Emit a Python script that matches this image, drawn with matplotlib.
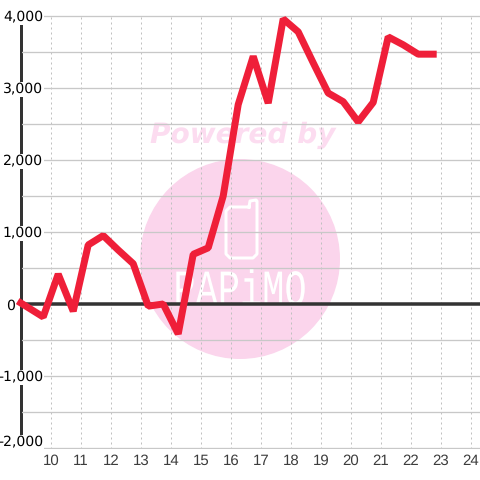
import matplotlib
matplotlib.use("Agg")
import matplotlib.pyplot as plt
from matplotlib.lines import Line2D
from matplotlib.patches import Circle
from matplotlib.patheffects import AbstractPathEffect
from matplotlib.transforms import Affine2D

hours = [9.0, 9.75, 10.25, 10.75, 11.25, 11.75, 12.25, 12.75, 13.25, 13.75, 14.25, 14.75,
         15.25, 15.75, 16.25, 16.75, 17.25, 17.75, 18.25, 18.75, 19.25, 19.75, 20.25,
         20.75, 21.25, 21.75, 22.25, 22.75]
values = [15, -180, 415, -100, 820, 950, 750, 560, -30, 0, -415, 690,
          780, 1500, 2770, 3440, 2790, 3960, 3780, 3350, 2930, 2810, 2530,
          2800, 3710, 3600, 3470, 3470]
x_ticks = list(range(10, 25))
y_major = [-2000, -1000, 0, 1000, 2000, 3000, 4000]
y_minor = [-1500, -500, 500, 1500, 2500, 3500]
y_labels = ["-2,000", "-1,000", "0", "1,000", "2,000", "3,000", "4,000"]

FONT = "Liberation Sans"
TEXT = "#3c3c3c"
GRID = "#c8c8c8"
DARK = "#333333"
RED = "#ef1f39"
px = 72 / 100

plt.rcParams["text.hinting"] = "no_hinting"
plt.rcParams["text.hinting_factor"] = 1


class StretchY(AbstractPathEffect):
    def __init__(self, factor):
        super().__init__()
        self.factor = factor

    def draw_path(self, renderer, gc, tpath, affine, rgbFace=None):
        renderer.draw_path(gc, tpath, Affine2D().scale(1, self.factor) + affine, rgbFace)


fig = plt.figure(figsize=(4.8, 4.8), dpi=100, facecolor="white")

# watermark layer in pixel coordinates
bg = fig.add_axes([0, 0, 1, 1], zorder=0)
bg.set_xlim(0, 480)
bg.set_ylim(480, 0)
bg.axis("off")
bg.add_patch(Circle((240, 259), 100, fc="#fbd5ec", ec="none"))
bg.text(242.5, 135.5, "Powered by", family="DejaVu Sans", weight="bold", style="oblique",
        fontsize=20.4, color="#fcdcf0", ha="center", va="center")
bg.add_line(Line2D([249, 250, 256, 257, 257, 253, 230, 226, 226, 230, 249],
                   [207, 201, 200, 201, 254, 258, 258, 254, 211, 207, 207],
                   color="white", lw=3 * px, solid_joinstyle="round"))
bg.text(240, 305, "PAPiMO", family="Liberation Mono", fontsize=37 * px, color="white",
        ha="center", va="baseline", path_effects=[StretchY(1.37)])

# chart layer
ax = fig.add_axes([22 / 480, 31 / 480, 458 / 480, 434 / 480], zorder=1)
ax.patch.set_alpha(0)
ax.set_xlim(9.043, 24.31)
ax.set_ylim(-2014, 4014)
ax.set_axisbelow(True)

ax.set_xticks(x_ticks)
ax.set_yticks(y_major)
ax.set_yticks(y_minor, minor=True)
ax.set_yticklabels(y_labels, family=FONT, fontsize=15 * px, color=TEXT)
ax.set_xticklabels([str(t) for t in x_ticks], family=FONT, fontsize=15 * px, color=TEXT)
ax.tick_params(axis="both", which="both", length=0)
ax.tick_params(axis="x", pad=3.5)
ax.tick_params(axis="y", pad=0)
ax.grid(axis="y", which="both", color=GRID, lw=1.3 * px)
ax.grid(axis="x", color="#c0c0c0", lw=1 * px, linestyle=(0, (2, 3)))

for s in ("top", "right", "bottom"):
    ax.spines[s].set_visible(False)
left = ax.spines["left"]
left.set_position(("outward", 1.5 * px))
left.set_linewidth(3 * px)
left.set_color(DARK)
left.set_bounds(-2000, 4000)
left.set_zorder(0.4)

for tick, lab in zip(ax.yaxis.get_major_ticks(), y_labels):
    t = tick.label1
    dx, dy = 22.5, 0
    if lab == "0":
        dx = -6
    if lab == "-2,000":
        dy = 7
    t.set_transform(t.get_transform() + Affine2D().translate(dx, dy))
    t.set_bbox(dict(fc="white", ec="none", pad=0.6))

ax.axhline(0, color=DARK, lw=3.5 * px, zorder=1)
ax.plot(hours, values, color=RED, lw=7 * px, solid_joinstyle="bevel",
        solid_capstyle="projecting", clip_on=False, zorder=3)

fig.savefig("out.png", dpi=100)
